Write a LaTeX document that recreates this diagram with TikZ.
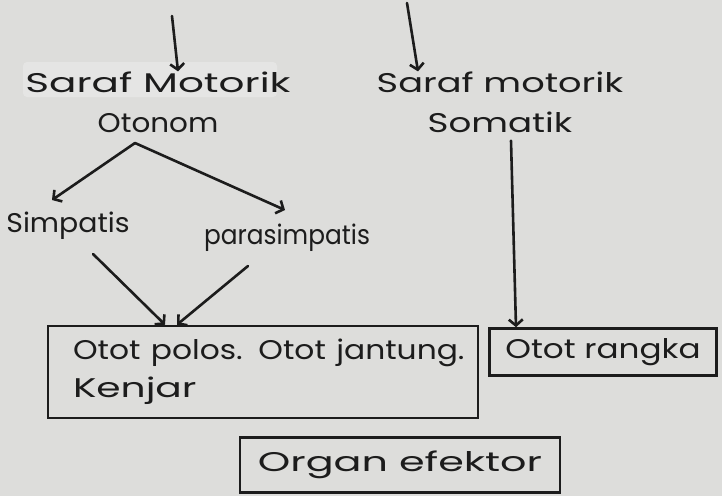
\documentclass[tikz,border=0pt]{standalone}
\usepackage{fontspec}
\usepackage{graphicx}
\setmainfont{Poppins}
\usetikzlibrary{arrows.meta}
\definecolor{paper}{RGB}{221,221,219}
\definecolor{ink}{RGB}{28,28,28}
\newcommand{\hs}[2]{\scalebox{#1}[1]{#2}}
\begin{document}
\begin{tikzpicture}[x=1pt,y=-1pt,line cap=round,
  txt/.style={font=\fontsize{27}{40}\selectfont, text=ink, inner sep=0pt},
  boxed/.style={draw=ink, line width=2.6pt, font=\fontsize{27}{38}\selectfont, text=ink},
  arr/.style={draw=ink, line width=2.6pt, -{Straight Barb[length=6pt,width=14pt]}}]
\fill[paper] (0,0) rectangle (722,496);
\useasboundingbox (0,0) rectangle (722,496);
\fill[white, opacity=0.25, rounded corners=4pt] (23,62) rectangle (277,97);
% texts
\node[txt, align=center] (smo) at (158,102) {\hs{1.5}{Saraf Motorik}\\\hs{1.09}{Otonom}};
\node[txt, align=center] (som) at (500,102) {\hs{1.36}{Saraf motorik}\\\hs{1.32}{Somatik}};
\node[txt] (simp) at (68,226) {\hs{1.05}{Simpatis}};
\node[txt] (para) at (287,238) {\hs{0.92}{parasimpatis}};
% boxes
\node[boxed, minimum width=430pt, minimum height=92pt, text width=380pt, align=left, inner xsep=25pt, inner ysep=10pt] (b1) at (263,372) {\hs{1.16}{Otot polos. Otot jantung.}\\\hs{1.45}{Kenjar}};
\node[boxed, minimum width=227pt, minimum height=47pt, inner sep=4pt] (b2) at (603,352) {\hs{1.21}{Otot rangka}};
\node[boxed, minimum width=320pt, minimum height=55pt, inner sep=4pt] (b3) at (400,465) {\hs{1.53}{Organ efektor}};
% connectors
\coordinate (tl) at (172,16);
\coordinate (tr) at (407,3);
\coordinate (br) at (135,143);
\draw[arr] (tl) -- ([xshift=20pt]smo.north);
\draw[arr] (tr) -- ([xshift=-82pt]som.north);
\draw[arr] (br) -- ([shift={(-16pt,12pt)}]simp.north);
\draw[arr] (br) -- ([shift={(-2pt,14pt)}]para.north);
\draw[arr] ([shift={(25pt,-14pt)}]simp.south) -- ([xshift=-98pt]b1.north);
\draw[arr] ([shift={(-39pt,-14pt)}]para.south) -- ([xshift=-86pt]b1.north);
\draw[arr] ([shift={(11pt,-8pt)}]som.south) -- ([xshift=-87pt]b2.north);
\end{tikzpicture}
\end{document}
